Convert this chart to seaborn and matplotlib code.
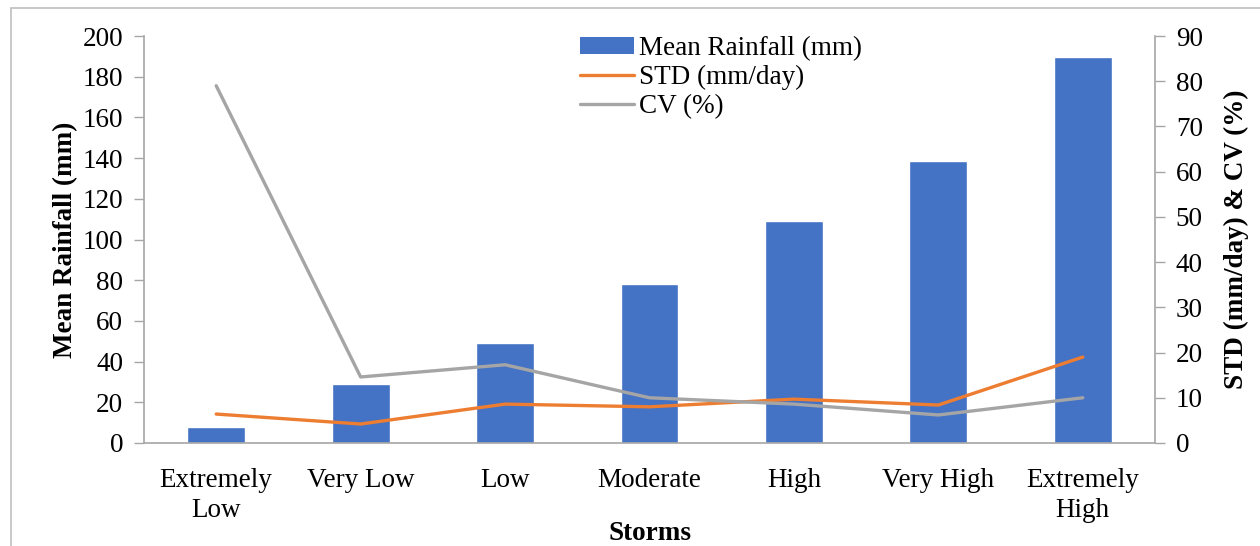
import matplotlib
matplotlib.use("Agg")
import matplotlib.pyplot as plt
from matplotlib.patches import Rectangle
from matplotlib.lines import Line2D
from matplotlib.ticker import FixedLocator
import numpy as np
import pandas as pd
import seaborn as sns

categories = ["Extremely\nLow", "Very Low", "Low", "Moderate", "High", "Very High", "Extremely\nHigh"]
mean_rainfall = [7.9, 29.0, 49.2, 78.1, 109.2, 138.5, 189.8]
std_mm_day = [6.4, 4.2, 8.6, 8.0, 9.7, 8.4, 19.0]
cv_percent = [79.0, 14.6, 17.3, 10.0, 8.6, 6.2, 10.0]

bar_color = "#4472C4"
std_color = "#ED7D31"
cv_color = "#A5A5A5"
axis_gray = "#A6A6A6"
fs = 19.5

sns.set_theme(style="white")
plt.rcParams["font.family"] = ["Liberation Serif", "DejaVu Serif"]
plt.rcParams["font.size"] = fs
plt.rcParams["text.color"] = "black"
plt.rcParams["axes.labelcolor"] = "black"
plt.rcParams["xtick.color"] = "black"
plt.rcParams["ytick.color"] = "black"

df = pd.DataFrame({
    "pos": np.arange(len(categories)),
    "Storm": categories,
    "Mean Rainfall (mm)": mean_rainfall,
    "STD (mm/day)": std_mm_day,
    "CV (%)": cv_percent,
})

fig = plt.figure(figsize=(12.6, 5.46), dpi=100)
ax = fig.add_axes([144 / 1260, 1 - 443 / 546, (1155 - 144) / 1260, (443 - 36) / 546])

sns.barplot(data=df, x="pos", y="Mean Rainfall (mm)", color=bar_color,
            width=0.4, saturation=1, ax=ax, native_scale=True)
ax.set_xlim(-0.5, len(categories) - 0.5)
ax.set_ylim(0, 200)
ax.set_yticks(np.arange(0, 201, 20))

ax2 = ax.twinx()
sns.lineplot(data=df, x="pos", y="STD (mm/day)", color=std_color, linewidth=2.4, ax=ax2)
sns.lineplot(data=df, x="pos", y="CV (%)", color=cv_color, linewidth=2.4, ax=ax2)
ax2.set_ylim(0, 90)
ax2.set_yticks(np.arange(0, 91, 10))
ax2.set_xlim(-0.5, len(categories) - 0.5)

# Category labels centred, tick marks on category boundaries
ax.set_xticks(df["pos"])
ax.set_xticklabels(categories, linespacing=1.25)
ax.xaxis.set_minor_locator(FixedLocator(np.arange(-0.5, len(categories), 1.0)))
ax.tick_params(axis="x", which="major", length=0, pad=18, labelsize=fs)
ax.tick_params(axis="x", which="minor", length=8, width=1.2, color=axis_gray, direction="out")
ax.tick_params(axis="y", length=7, width=1.0, color=axis_gray, direction="out", labelsize=fs, pad=8,
               labelcolor="black")
ax2.tick_params(axis="y", length=7, width=1.0, color=axis_gray, direction="out", labelsize=fs, pad=8,
                labelcolor="black")

for a in (ax, ax2):
    a.spines["top"].set_visible(False)
    for s in ("left", "right", "bottom"):
        a.spines[s].set_color(axis_gray)
        a.spines[s].set_linewidth(1.2)
ax.spines["right"].set_visible(False)
ax2.spines["left"].set_visible(False)
ax2.spines["bottom"].set_visible(False)

ax.set_xlabel("Storms", fontsize=fs, fontweight="bold", labelpad=-1)
ax.set_ylabel("Mean Rainfall (mm)", fontsize=fs, fontweight="bold", labelpad=3)
ax2.set_ylabel("STD (mm/day) & CV (%)", fontsize=fs, fontweight="bold", labelpad=15)

handles = [
    Rectangle((0, 0), 1, 1, facecolor=bar_color, edgecolor="none"),
    Line2D([], [], color=std_color, linewidth=2.4),
    Line2D([], [], color=cv_color, linewidth=2.4),
]
labels = ["Mean Rainfall (mm)", "STD (mm/day)", "CV (%)"]
ax2.legend(handles, labels, loc="upper left", bbox_to_anchor=(0.431, 1.0),
           frameon=False, fontsize=fs, handlelength=2.0, handleheight=0.6,
           handletextpad=0.2, labelspacing=0.15, borderaxespad=0, borderpad=0)

# Outer chart frame
fig.patches.append(Rectangle((11 / 1260, -0.1), 1.2, 1 - 8 / 546 + 0.1,
                             transform=fig.transFigure, fill=False,
                             edgecolor="#BFBFBF", linewidth=1.2))

fig.savefig("out.png", dpi=100)
